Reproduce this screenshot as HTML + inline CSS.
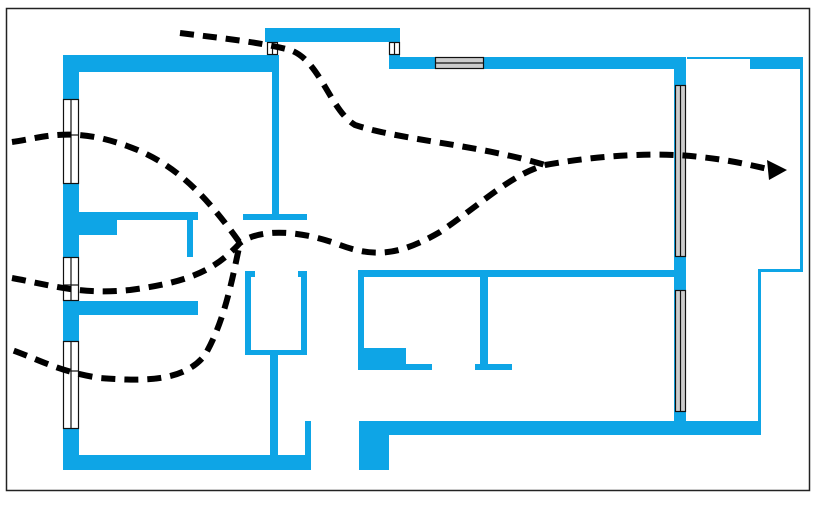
<!DOCTYPE html>
<html><head><style>
body{margin:0;width:821px;height:501px;background:#fff;overflow:hidden}
</style></head><body>
<svg width="821" height="501" viewBox="0 0 821 501" xmlns="http://www.w3.org/2000/svg">
<rect x="6.5" y="8.5" width="803" height="482" fill="#fff" stroke="#222" stroke-width="1.5"/>
<g fill="#0ea5e6">
<!-- top-left outer wall -->
<rect x="63" y="55" width="216" height="17"/>
<rect x="63" y="55" width="16" height="415"/>
<rect x="272" y="55" width="7" height="162"/>
<rect x="243" y="214" width="64" height="6"/>
<!-- top bump -->
<rect x="265" y="28" width="135" height="14"/>
<rect x="389" y="42" width="11" height="27"/>
<rect x="389" y="57" width="297" height="12"/>
<rect x="750" y="57" width="53" height="12"/>
<rect x="687" y="57" width="63" height="2"/>
<!-- right vertical -->
<rect x="674" y="57" width="12" height="378"/>
<rect x="800" y="57" width="3" height="215"/>
<rect x="758" y="269" width="45" height="3"/>
<rect x="758" y="269" width="3" height="166"/>
<!-- bottom right -->
<rect x="359" y="421" width="402" height="14"/>
<rect x="359" y="421" width="30" height="49"/>
<!-- middle -->
<rect x="358" y="270" width="328" height="7"/>
<rect x="358" y="270" width="6" height="80"/>
<rect x="358" y="348" width="48" height="22"/>
<rect x="358" y="364" width="74" height="6"/>
<rect x="480" y="277" width="8" height="90"/>
<rect x="475" y="364" width="37" height="6"/>
<!-- bottom left -->
<rect x="63" y="455" width="248" height="15"/>
<rect x="305" y="421" width="6" height="49"/>
<rect x="270" y="350" width="8" height="106"/>
<rect x="245" y="271" width="6" height="84"/>
<rect x="301" y="271" width="6" height="84"/>
<rect x="245" y="350" width="62" height="5"/>
<rect x="245" y="271" width="10" height="6"/>
<rect x="298" y="271" width="9" height="6"/>
<!-- left interior -->
<rect x="63" y="301" width="135" height="14"/>
<rect x="79" y="212" width="38" height="23"/>
<rect x="79" y="212" width="119" height="8"/>
<rect x="187" y="212" width="6" height="45"/>
</g>
<!-- windows -->
<g fill="#fff" stroke="#111" stroke-width="1.2">
<rect x="63.5" y="99.5" width="15" height="84"/><line x1="71" y1="99.5" x2="71" y2="183.5"/><line x1="63.5" y1="135" x2="78.5" y2="135"/>
<rect x="63.5" y="257.5" width="15" height="43"/><line x1="71" y1="257.5" x2="71" y2="300.5"/><line x1="63.5" y1="285" x2="78.5" y2="285"/>
<rect x="63.5" y="341.5" width="15" height="87"/><line x1="71" y1="341.5" x2="71" y2="428.5"/><line x1="63.5" y1="371" x2="78.5" y2="371"/>
<rect x="267.5" y="42.5" width="10" height="12"/><line x1="272.5" y1="42.5" x2="272.5" y2="54.5"/>
<rect x="389.5" y="42.5" width="10" height="12"/><line x1="394.5" y1="42.5" x2="394.5" y2="54.5"/>
</g>
<g fill="#ccc" stroke="#111" stroke-width="1.2">
<rect x="435.5" y="57.5" width="48" height="11"/><line x1="435.5" y1="63" x2="483.5" y2="63"/>
<rect x="675.5" y="85.5" width="10" height="171"/><line x1="680.5" y1="85.5" x2="680.5" y2="256.5"/>
<rect x="675.5" y="290.5" width="10" height="121"/><line x1="680.5" y1="290.5" x2="680.5" y2="411.5"/>
</g>
<!-- dashed paths -->
<g fill="none" stroke="#000" stroke-width="6" stroke-dasharray="14 9">
<path d="M180 33 C220 38 260 42 290 50 C320 60 330 110 355 125 C400 140 480 145 545 165"/>
<path d="M12 142 C40 138 60 130 100 138 C160 152 195 180 240 243 C232 280 225 320 205 355 C185 380 150 382 100 378 C60 372 40 360 12 350"/>
<path d="M12 278 C50 285 80 295 130 290 C190 282 215 270 240 243 C260 228 300 230 340 245 C375 258 400 255 440 232 C480 205 510 175 545 165"/>
<path d="M545 165 C600 155 660 152 700 157 C730 160 750 165 768 169"/>
</g>
<polygon points="787,170 767,160 769,180" fill="#000"/>
</svg>
</body></html>
